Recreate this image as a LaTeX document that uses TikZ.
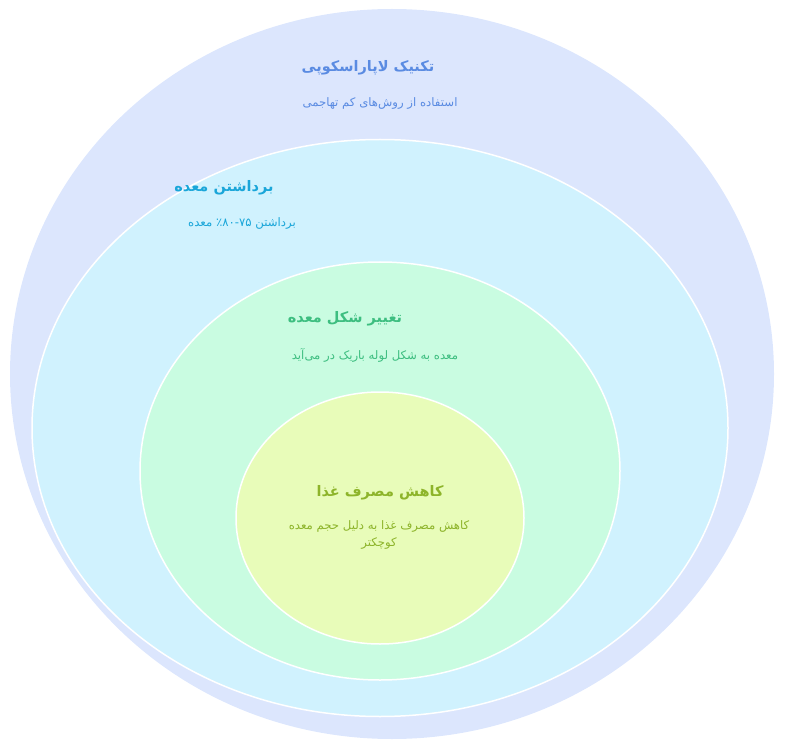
\documentclass[tikz,border=0pt]{standalone}
\usepackage{fontspec}
\usepackage{tikz}
\usetikzlibrary{positioning, shapes.geometric}
\newfontfamily\fafont[Script=Arabic]{DejaVu Sans}
\TeXXeTstate=1
\definecolor{lapfill}{HTML}{DCE6FD}
\definecolor{laptext}{HTML}{5A8BE2}
\definecolor{remfill}{HTML}{D0F2FE}
\definecolor{remtext}{HTML}{1AA6D9}
\definecolor{shapefill}{HTML}{C9FCE1}
\definecolor{shapetext}{HTML}{3DBE80}
\definecolor{foodfill}{HTML}{E8FCB9}
\definecolor{foodtext}{HTML}{8DB42A}
\tikzset{
layer/.style args = {#1, #2, #3}{ ellipse, draw = white, line width = 1.5pt, fill = #1, minimum width = #2, minimum height = #3, inner sep = 0pt },
head/.style = { text = #1, font = \fafont\bfseries\fontsize{14.5}{18}\selectfont, inner sep = 0pt },
note/.style = { text = #1, font = \fafont\fontsize{11.7}{17}\selectfont, inner sep = 0pt, align = center },
}

\begin{document}
\begin{tikzpicture}[x = 1pt, y = -1pt]
      \useasboundingbox (0, 0) rectangle (787, 751);
      \node[layer = {lapfill, 764pt, 730pt}, draw = none] (lap) at (392, 374) {};
      \node[layer = {remfill, 696pt, 577pt}] (rem) at (380, 428) {};
      \node[layer = {shapefill, 480pt, 418pt}] (shape) at (380, 471) {};
      \node[layer = {foodfill, 288pt, 252pt}] (food) at (380, 518) {};
      % labels
      \node[head = laptext] (laphead) at (368, 68) {\beginR تکنیک لاپاراسکوپی\endR};
      \node[note = laptext] (lapnote) at (380, 103) {\beginR استفاده از روش‌های کم تهاجمی\endR};
      \node[head = remtext] (remhead) at (224, 188) {\beginR برداشتن معده\endR};
      \node[note = remtext] (remnote) at (242, 223) {\beginR برداشتن ٪۸۰-۷۵ معده\endR};
      \node[head = shapetext] (shapehead) at (345, 319) {\beginR تغییر شکل معده\endR};
      \node[note = shapetext] (shapenote) at (375, 355) {\beginR معده به شکل لوله باریک در می‌آید\endR};
      \node[head = foodtext] (foodhead) at (380, 493) {\beginR کاهش مصرف غذا\endR};
      \node[note = foodtext] (foodnote) at (379, 535) {\beginR کاهش مصرف غذا به دلیل حجم معده\endR\\\beginR کوچکتر\endR};
    \end{tikzpicture}
\end{document}
